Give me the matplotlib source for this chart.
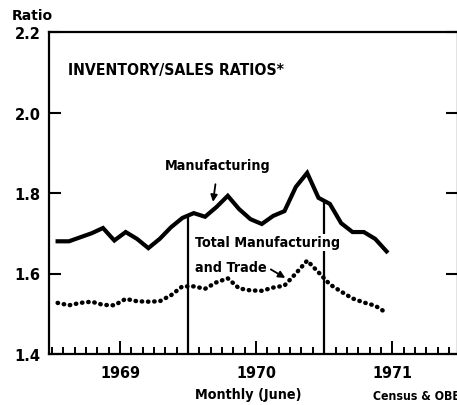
import numpy as np
import matplotlib.pyplot as plt

plt.rcParams['font.family'] = ['DejaVu Sans']
plt.rcParams['font.weight'] = 'bold'

# month index: 0 = June 1969, data runs Jan 1969 .. June 1971
months = np.arange(-5, 25)
manufacturing = [1.680, 1.680, 1.690, 1.700, 1.713, 1.682, 1.703, 1.686, 1.663, 1.686,
                 1.715, 1.738, 1.750, 1.741, 1.765, 1.793, 1.760, 1.735, 1.723, 1.743,
                 1.755, 1.815, 1.850, 1.788, 1.773, 1.725, 1.703, 1.703, 1.686, 1.655]
total_trade = [1.527, 1.521, 1.527, 1.530, 1.522, 1.521, 1.537, 1.531, 1.530, 1.531,
               1.546, 1.568, 1.568, 1.562, 1.578, 1.588, 1.563, 1.558, 1.557, 1.565,
               1.570, 1.600, 1.632, 1.603, 1.573, 1.555, 1.538, 1.528, 1.520, 1.502]
year_ticks = [0.5, 12.5, 24.5]
year_labels = ['1969', '1970', '1971']
recession = [6.5, 18.5]
y_ticks = [1.4, 1.6, 1.8, 2.0, 2.2]

cond = dict(fontweight='bold', fontstretch='condensed')

fig = plt.figure(figsize=(4.57, 4.06), dpi=100)
ax = fig.add_axes([49 / 457, 51 / 406, 409 / 457, 322 / 406])

ax.plot(months, manufacturing, color='black', lw=3.0, solid_joinstyle='miter')
ax.plot(months, total_trade, color='black', lw=3.2,
        linestyle=(0, (0.1, 1.3)), dash_capstyle='round')

# recession lines up to the manufacturing curve
for r in recession:
    ax.vlines(r, 1.4, np.interp(r, months, manufacturing), color='black', lw=1.6)

ax.set_xlim(-5.76, 30.3)
ax.set_ylim(1.4, 2.2)

ax.set_yticks(y_ticks)
ax.set_yticklabels(['%.1f' % v for v in y_ticks], fontsize=10.5, fontweight='bold')
ax.tick_params(axis='y', direction='in', length=8.6, width=1.5, right=True, pad=6)
ax.set_xticks(year_ticks)
ax.set_xticklabels(year_labels, fontsize=11.5, **cond)
ax.set_xticks(np.arange(-5.5, 30, 1.0), minor=True)
ax.tick_params(axis='x', which='major', direction='in', length=9.5, width=1.4, pad=8)
ax.tick_params(axis='x', which='minor', direction='in', length=5, width=1.4)

for s in ax.spines.values():
    s.set_linewidth(1.6)

ax.text(-4.05, 2.108, 'INVENTORY/SALES RATIOS*', fontsize=11.3,
        ha='left', va='center', **cond)
ax.annotate('Manufacturing', xy=(8.7, 1.778), xytext=(9.15, 1.870),
            fontsize=10.3, ha='center', va='center', **cond,
            arrowprops=dict(arrowstyle='-|>', color='black', lw=1.3,
                            shrinkA=7, shrinkB=0, mutation_scale=10))
ax.text(7.12, 1.678, 'Total Manufacturing', fontsize=10.3,
        ha='left', va='center', **cond,
        bbox=dict(facecolor='white', edgecolor='none', pad=1))
ax.annotate('and Trade', xy=(15.07, 1.589), xytext=(7.12, 1.616),
            fontsize=10.3, ha='left', va='center', **cond,
            arrowprops=dict(arrowstyle='-|>', color='black', lw=1.3,
                            shrinkA=1, shrinkB=0, mutation_scale=10,
                            relpos=(1.0, 0.5)))

fig.text(12 / 457, 1 - 16 / 406, 'Ratio', fontsize=10, fontweight='bold',
         ha='left', va='center')
fig.text(248 / 457, 1 - 395 / 406, 'Monthly (June)', fontsize=10.3,
         ha='center', va='center', **cond)
fig.text(373 / 457, 1 - 397 / 406, 'Census & OBE', fontsize=8.8,
         ha='left', va='center', **cond)

fig.savefig('out.png', dpi=100)
